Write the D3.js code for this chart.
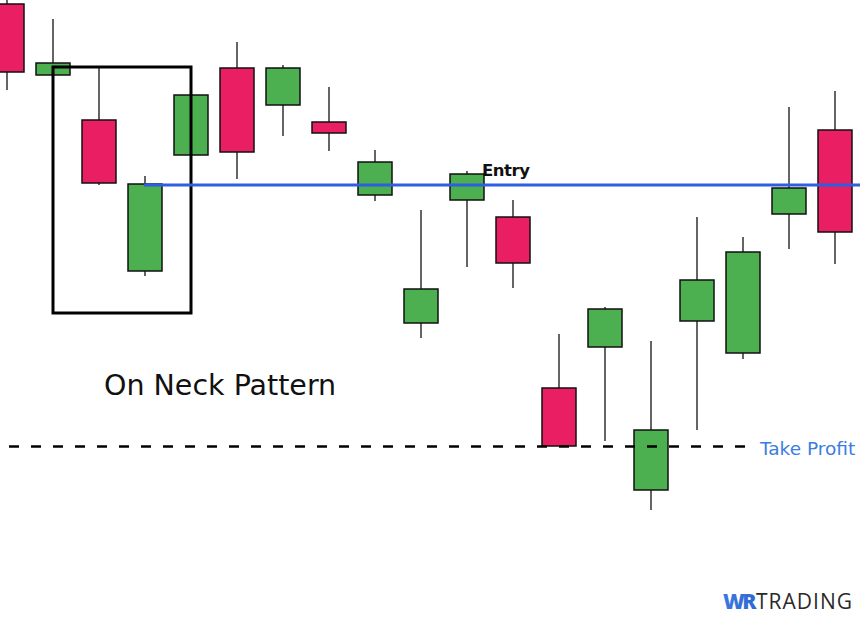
<!DOCTYPE html>
<html>
<head>
<meta charset="utf-8">
<script src="https://cdn.jsdelivr.net/npm/d3@7"></script>
<style>
  html, body { margin: 0; padding: 0; background: #fff; }
  svg { display: block; }
</style>
</head>
<body>
<div id="chart"></div>
<script>
// candle data, arbitrary price units (no axis on the chart)
const opens  = [62.1, 55.0, 50.5, 35.4, 47.0, 55.7, 52.0, 50.3, 43.0, 30.2, 42.5, 40.8, 23.7, 27.8, 13.5, 30.4, 27.2, 41.1, 49.5];
const closes = [55.3, 56.2, 44.2, 44.1, 53.0, 47.3, 55.7, 49.2, 46.3, 33.6, 45.1, 36.2, 17.9, 31.6, 19.5, 34.5, 37.3, 43.7, 39.3];
const highs  = [63.8, 60.6, 55.7, 44.9, 53.0, 58.3, 56.0, 53.8, 47.5, 41.5, 45.4, 42.5, 29.1, 31.8, 28.4, 40.8, 38.8, 51.8, 53.4];
const lows   = [53.5, 55.0, 44.0, 34.9, 47.0, 44.6, 48.9, 47.4, 42.4, 28.7, 35.8, 33.7, 17.9, 18.4, 11.5, 19.5, 26.6, 37.6, 36.1];

const entryLevel = 44.0;
const takeProfitLevel = 17.85;
// pattern box: candle index range and price range
const boxCandles = [1, 4];
const boxPrices = [31.2, 55.8];

const width = 860, height = 625;

const data = opens.map((o, i) => ({
    i, open: o, close: closes[i], high: highs[i], low: lows[i]
}));

const svg = d3.select("#chart")
    .append("svg")
    .attr("width", width)
    .attr("height", height);

const x = d3.scaleLinear().domain([0, 18]).range([7, 835]);
const y = d3.scaleLinear().domain([0, 62.5]).range([625, 0]);
const bodyW = 34;

const red = "#e91e63", green = "#4caf50";

const candles = svg.append("g")
    .selectAll("g")
    .data(data)
    .join("g");

// wicks
candles.append("line")
    .attr("x1", d => x(d.i))
    .attr("x2", d => x(d.i))
    .attr("y1", d => y(d.high))
    .attr("y2", d => y(d.low))
    .attr("stroke", "#111")
    .attr("stroke-width", 1.3);

// bodies
candles.append("rect")
    .attr("x", d => x(d.i) - bodyW / 2)
    .attr("y", d => y(Math.max(d.open, d.close)))
    .attr("width", bodyW)
    .attr("height", d => Math.max(1, Math.abs(y(d.open) - y(d.close))))
    .attr("fill", d => d.close >= d.open ? green : red)
    .attr("stroke", "#111")
    .attr("stroke-width", 1.5);

// pattern box
svg.append("rect")
    .attr("x", x(boxCandles[0]))
    .attr("y", y(boxPrices[1]))
    .attr("width", x(boxCandles[1]) - x(boxCandles[0]))
    .attr("height", y(boxPrices[0]) - y(boxPrices[1]))
    .attr("fill", "none")
    .attr("stroke", "#000")
    .attr("stroke-width", 3);

// entry line
svg.append("line")
    .attr("x1", x(3) - 1)
    .attr("x2", width)
    .attr("y1", y(entryLevel))
    .attr("y2", y(entryLevel))
    .attr("stroke", "#2f5fe0")
    .attr("stroke-width", 3);

svg.append("text")
    .attr("x", 482)
    .attr("y", y(entryLevel) - 9)
    .style("font", "bold 16.5px 'DejaVu Sans', sans-serif")
    .attr("fill", "#111")
    .attr("textLength", 48)
    .text("Entry");

// take profit line
svg.append("line")
    .attr("x1", 9)
    .attr("x2", 746)
    .attr("y1", y(takeProfitLevel))
    .attr("y2", y(takeProfitLevel))
    .attr("stroke", "#000")
    .attr("stroke-width", 2.6)
    .attr("stroke-dasharray", "10,12");

svg.append("text")
    .attr("x", 760)
    .attr("y", y(takeProfitLevel) + 8)
    .style("font", "18.5px 'DejaVu Sans', sans-serif")
    .attr("fill", "#3b7de0")
    .text("Take Profit");

svg.append("text")
    .attr("x", 104)
    .attr("y", 395)
    .style("font", "28.5px 'DejaVu Sans', sans-serif")
    .attr("fill", "#111")
    .text("On Neck Pattern");

// logo
const grad = svg.append("defs").append("linearGradient")
    .attr("id", "wr")
    .attr("x1", "0").attr("x2", "1");
grad.append("stop").attr("offset", "0").attr("stop-color", "#3a78e0");
grad.append("stop").attr("offset", "1").attr("stop-color", "#1c3f9c");

const logo = svg.append("text")
    .attr("x", 723)
    .attr("y", 609)
    .style("font-family", "'Open Sans', sans-serif")
    .style("font-size", "21px");
logo.append("tspan")
    .attr("fill", "url(#wr)")
    .style("font-weight", "800")
    .attr("letter-spacing", "-2.5")
    .text("WR");
logo.append("tspan")
    .attr("fill", "#2a2a2a")
    .attr("dx", 2)
    .attr("letter-spacing", "1")
    .text("TRADING");
</script>
</body>
</html>
